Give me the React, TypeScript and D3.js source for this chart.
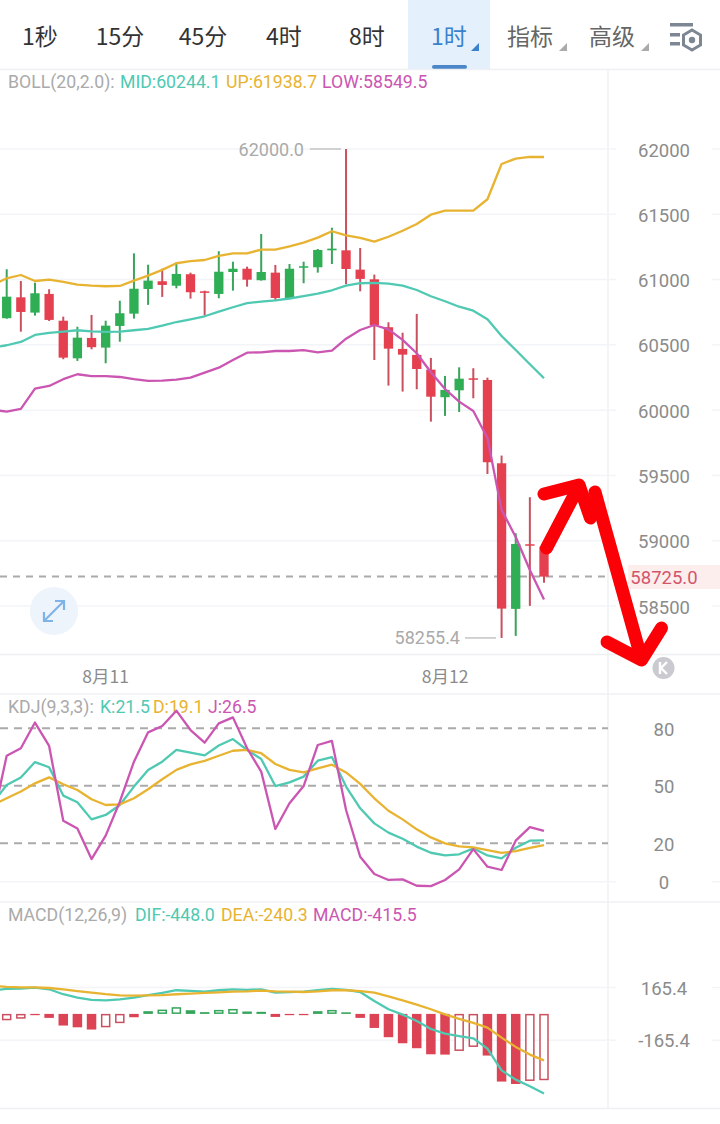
import * as d3 from "d3";

// candle data, index 0..38
const opens = [60704,60864,60747,60890,60685,60397,60553,60479,60645,60739,60928,60987,60953,61041,60910,60890,61058,61083,60995,61053,60857,61091,61094,61224,61224,61076,61002,60635,60469,60423,60310,60099,60152,60244,60231,59593,58478,58973,58955];
const highs = [61079,60989,60976,60926,60716,60639,60729,60685,60838,61201,61114,61083,61132,61053,60915,61217,61137,61099,61349,61112,61119,61137,61234,61397,62000,61242,61038,60673,60593,60737,60400,60262,60328,60321,60249,59652,59057,59333,58960];
const lows = [60700,60601,60724,60683,60390,60377,60466,60359,60524,60701,60806,60867,60933,60854,60724,60857,60915,60946,60992,60844,60855,60972,61053,61119,60964,60910,60384,60188,60142,60160,59912,59956,59986,60091,59511,58255.4,58271,58501,58679];
const closes = [60869,60752,60895,60691,60402,60555,60482,60647,60742,60930,60992,60959,61043,60903,60900,61060,61083,60999,61058,60859,61083,61102,61227,61237,61081,61005,60652,60471,60425,60315,60103,60155,60241,60237,59601,58480,58975,58966,58725];

// indicator series start one candle earlier, off the left edge (index -1..38)
const bollUp = [60959,61010,61035,60989,60999,60982,60961,60953,60949,60951,60992,61030,61074,61125,61142,61150,61181,61201,61201,61229,61229,61255,61283,61321,61370,61339,61319,61290,61328,61374,61426,61497,61528,61528,61528,61615,61885,61926,61939,61938.7];
const bollMid = [60480,60497,60522,60576,60591,60601,60612,60604,60599,60601,60612,60622,60647,60675,60696,60719,60754,60788,60819,60831,60841,60855,60874,60892,60918,60953,60972,60974,60969,60953,60920,60872,60834,60792,60762,60696,60568,60461,60351,60244.1];
const bollLow = [60002,59989,60009,60165,60185,60237,60275,60260,60260,60254,60237,60224,60226,60234,60249,60287,60325,60384,60440,60443,60453,60453,60459,60443,60456,60547,60614,60652,60619,60538,60436,60290,60162,60065,59994,59787,59236,59029,58776,58549.5];

const kdjK = [40.9,50.4,54.3,62.4,59.7,44.9,41.4,32.5,34.8,40,49.6,58.3,62.6,68.7,67.3,65.9,71,74.4,68.7,64,49.9,51.8,54.8,63.1,65,49.6,38.3,30.4,25.6,22.4,18.3,15.1,13.7,14.3,17.4,13.7,12.2,17.7,21.4,21.5];
const kdjD = [40,43.5,47,51.3,54.4,50.8,47.8,43,40,40.3,43.5,48.2,53.4,58.3,61.2,63,65.7,68.3,68.7,67,61.4,58.3,57,59.1,61,57,51,43.5,37,32.5,27.3,23.1,20,18.4,17.9,16.5,15,16,17.7,19.1];
const kdjJ = [31.8,65.7,69.6,83,70.8,31.8,27.7,11.8,24,41.7,62.6,77.9,81.2,89.2,79.1,72.5,82.6,85.7,69.6,57.4,27.5,40.9,49.9,71.3,73.4,37.4,13,4,0.9,1.2,-2.1,-2.3,0.9,6.4,17,7.8,6.1,21.4,28.5,26.5];

const macdDif = [199,207,209,215,205,174,153,138,136,142,153,169,182,199,195,190,199,205,201,205,184,187,190,199,207,201,188,132,80,46,6,-44,-73,-88,-102,-167,-303,-361,-403,-448];
const macdDea = [226,220,217,217,213,205,194,184,174,167,165,167,169,174,178,182,186,190,192,197,192,190,188,192,199,199,194,184,161,136,109,80,48,19,-6,-35,-98,-156,-204,-240.3];
const macdHist = [-45,-40,-30,-8,-25,-73,-84,-98,-84,-58,-21,17,27,42,23,11,25,31,15,13,-19,-8,-8,17,25,10,-25,-88,-146,-184,-215,-253,-255,-232,-207,-261,-424,-439,-420,-415.5];

const priceTicks = [62000,61500,61000,60500,60000,59500,59000,58500];
const kdjTicks = [80,50,20,0];
const kdjDashed = [80,50,20];
const macdTicks = [165.4,-165.4];
const dateLabels = [{ i: 7, text: "8月11" }, { i: 31, text: "8月12" }];
const lastPrice = 58725;
const maxMark = 62000;
const minMark = 58255.4;

const tabs = ["1秒","15分","45分","4时","8时"];
const tabCenters = [40,120,203,284,367];

const RED = "#e5404f";
const GREEN = "#2fae55";
const GOLD = "#e8b330";
const TEAL = "#4fc9b2";
const PINK = "#cb56b2";
const GRID = "#f2f4f7";
const GREY = "#8b8b8b";
const LABEL_FONT = "Roboto, 'Noto Sans CJK SC', sans-serif";
const CJK_FONT = "'Noto Sans CJK SC', Roboto, sans-serif";

const x = d3.scaleLinear().domain([0, 38]).range([6.7, 544]);
const priceY = d3.scaleLinear().domain([58500, 62000]).range([606, 149]);
const kdjY = d3.scaleLinear().domain([0, 80]).range([881.7, 728.3]);
const macdY = d3.scaleLinear().domain([-165.4, 165.4]).range([1040.3, 987.5]);
// the app draws DIF/DEA about 8px below the histogram zero
const macdLineY = d3.scaleLinear().domain([-165.4, 165.4]).range([1048.4, 995.6]);

function makeLine(yScale: d3.ScaleLinear<number, number>) {
  return d3
    .line<number>()
    .x((_, i) => x(i - 1))
    .y((d) => yScale(d));
}

function Series({ values, scale, color }: { values: number[]; scale: d3.ScaleLinear<number, number>; color: string }) {
  return <path d={makeLine(scale)(values) || ""} fill="none" stroke={color} strokeWidth={2.3} strokeLinejoin="round" />;
}

function Label({ x: lx, y, text, color, size = 17.7, anchor = "start", font = LABEL_FONT }: any) {
  return (
    <text x={lx} y={y} fill={color} fontSize={size} textAnchor={anchor} fontFamily={font} dominantBaseline="central">
      {text}
    </text>
  );
}

function Grid({ y }: { y: number }) {
  return (
    <g stroke={GRID} strokeWidth={1.5}>
      <line x1={0} x2={616} y1={y} y2={y} />
      <line x1={712} x2={720} y1={y} y2={y} />
    </g>
  );
}

function TabBar() {
  return (
    <g>
      <rect x={408} y={0} width={82} height={69} fill="#e4f0fc" />
      <rect x={432} y={65} width={35} height={4} rx={2} fill="#4a86c8" />
      {tabs.map((t, i) => (
        <Label key={t} x={tabCenters[i]} y={35} text={t} color="#333333" size={23} anchor="middle" font={CJK_FONT} />
      ))}
      <Label x={449} y={35} text="1时" color="#3a82cc" size={23} anchor="middle" font={CJK_FONT} />
      <path d="M471 51 L479 51 L479 43 Z" fill="#3a82cc" />
      <Label x={530} y={35} text="指标" color="#666666" size={23} anchor="middle" font={CJK_FONT} />
      <path d="M559 51 L567 51 L567 43 Z" fill="#aaaaaa" />
      <Label x={612} y={35} text="高级" color="#666666" size={23} anchor="middle" font={CJK_FONT} />
      <path d="M641 51 L649 51 L649 43 Z" fill="#aaaaaa" />
      <g fill="#7d8794">
        <rect x={670} y={23} width={23} height={3.5} />
        <rect x={670} y={33} width={10} height={3.5} />
        <rect x={670} y={42} width={10} height={3.5} />
      </g>
      <path d="M692 30 L700.5 35 L700.5 45 L692 50 L683.5 45 L683.5 35 Z" fill="none" stroke="#7d8794" strokeWidth={3} />
      <circle cx={692} cy={40} r={3.2} fill="#7d8794" />
    </g>
  );
}

function Candles() {
  const w = 9.3;
  return (
    <g>
      {opens.map((o, i) => {
        const c = closes[i];
        const up = c > o;
        const fill = up ? GREEN : RED;
        const top = priceY(Math.max(o, c));
        const bottom = priceY(Math.min(o, c));
        return (
          <g key={i}>
            <line x1={x(i)} x2={x(i)} y1={priceY(highs[i])} y2={priceY(lows[i])} stroke={up ? "#3aa35c" : "#c9505f"} strokeWidth={2} />
            <rect x={x(i) - w / 2} y={top} width={w} height={Math.max(bottom - top, 1.5)} fill={fill} />
          </g>
        );
      })}
    </g>
  );
}

function Histogram() {
  const w = 9.5;
  const zero = macdY(0);
  return (
    <g>
      {macdHist.slice(1).map((v, i) => {
        const prev = macdHist[i];
        const color = v < 0 ? "#dc4355" : "#36a55c";
        const h = Math.abs(macdY(v) - zero);
        const top = Math.min(macdY(v), zero);
        // rising bars are drawn hollow
        if (v > prev && h > 3.4) {
          return (
            <rect key={i} x={x(i) - w / 2 + 0.75} y={top + 0.75} width={w - 1.5} height={h - 1.5} fill="#ffffff" stroke={v < 0 ? "#c9505f" : "#36a55c"} strokeWidth={1.5} />
          );
        }
        return <rect key={i} x={x(i) - w / 2} y={top} width={w} height={h} fill={color} />;
      })}
    </g>
  );
}

function Arrows() {
  return (
    <g fill="none" stroke="#fb0006" strokeWidth={13} strokeLinecap="round" strokeLinejoin="round">
      <path d="M546.5 548 L579 486" />
      <path d="M544 494 L579 485 L590.5 518" />
      <path d="M595 492 L641.5 659" />
      <path d="M607 642 L641.5 660 L661.5 628" />
    </g>
  );
}

export default function App() {
  return (
    <svg width={720} height={1124} style={{ position: "absolute", left: 0, top: 0, background: "#ffffff" }}>
      <TabBar />
      <g stroke="#eef0f3" strokeWidth={1.5}>
        <line x1={0} x2={720} y1={69.5} y2={69.5} />
        <line x1={0} x2={720} y1={654.5} y2={654.5} />
        <line x1={0} x2={720} y1={694} y2={694} />
        <line x1={0} x2={720} y1={902} y2={902} />
        <line x1={0} x2={720} y1={1108.5} y2={1108.5} />
        <line x1={608} x2={608} y1={69} y2={1108} />
      </g>

      {/* price panel */}
      <Label x={8} y={82} text="BOLL(20,2.0):" color="#aaaaaa" />
      <Label x={120} y={82} text="MID:60244.1" color={TEAL} />
      <Label x={226} y={82} text="UP:61938.7" color={GOLD} />
      <Label x={322} y={82} text="LOW:58549.5" color={PINK} />
      {priceTicks.map((t) => (
        <g key={t}>
          <Grid y={priceY(t)} />
          <Label x={664} y={priceY(t) + 1.5} text={String(t)} color={GREY} size={18.5} anchor="middle" />
        </g>
      ))}
      <line x1={0} x2={608} y1={priceY(lastPrice)} y2={priceY(lastPrice)} stroke="#aaaaaa" strokeWidth={2} strokeDasharray="7 6" />
      <rect x={628} y={565} width={92} height={24} fill="#fdeeee" />
      <Label x={664} y={priceY(lastPrice) + 1} text={lastPrice.toFixed(1)} color="#d2566b" size={18.5} anchor="middle" />

      <Candles />
      <Series values={bollUp} scale={priceY} color={GOLD} />
      <Series values={bollMid} scale={priceY} color={TEAL} />
      <Series values={bollLow} scale={priceY} color={PINK} />

      <line x1={310} x2={341} y1={priceY(maxMark)} y2={priceY(maxMark)} stroke="#c4c4c4" strokeWidth={1.5} />
      <Label x={304} y={priceY(maxMark)} text={maxMark.toFixed(1)} color="#aaaaaa" size={18} anchor="end" />
      <line x1={465} x2={496} y1={priceY(minMark)} y2={priceY(minMark)} stroke="#c4c4c4" strokeWidth={1.5} />
      <Label x={460} y={priceY(minMark)} text={minMark.toFixed(1)} color="#aaaaaa" size={18} anchor="end" />

      {dateLabels.map((d) => (
        <Label key={d.text} x={x(d.i)} y={675} text={d.text} color={GREY} size={17.5} anchor="middle" font={CJK_FONT} />
      ))}

      <circle cx={54} cy={611} r={24} fill="#eef4fc" />
      <g fill="none" stroke="#7fb2e5" strokeWidth={2.2}>
        <path d="M45 620 L63 602" />
        <path d="M55 601 L64 601 L64 610" />
        <path d="M44 612 L44 621 L53 621" />
      </g>
      <circle cx={663.5} cy={668} r={11} fill="#c9cbd0" />
      <path d="M660 662 L660 674 M667 662 L661 668 L667 674" fill="none" stroke="#ffffff" strokeWidth={2.4} />

      {/* KDJ panel */}
      <Label x={8} y={707} text="KDJ(9,3,3):" color="#aaaaaa" />
      <Label x={100} y={707} text="K:21.5" color={TEAL} />
      <Label x={153} y={707} text="D:19.1" color={GOLD} />
      <Label x={208} y={707} text="J:26.5" color={PINK} />
      <Grid y={kdjY(0)} />
      {kdjDashed.map((t) => (
        <line key={t} x1={0} x2={608} y1={kdjY(t)} y2={kdjY(t)} stroke="#aaaaaa" strokeWidth={2} strokeDasharray="8 6" />
      ))}
      {kdjTicks.map((t) => (
        <Label key={t} x={664} y={kdjY(t) + 1.5} text={String(t)} color={GREY} size={18.5} anchor="middle" />
      ))}
      <Series values={kdjK} scale={kdjY} color={TEAL} />
      <Series values={kdjD} scale={kdjY} color={GOLD} />
      <Series values={kdjJ} scale={kdjY} color={PINK} />

      {/* MACD panel */}
      <Label x={8} y={915} text="MACD(12,26,9)" color="#aaaaaa" />
      <Label x={135} y={915} text="DIF:-448.0" color={TEAL} />
      <Label x={221} y={915} text="DEA:-240.3" color={GOLD} />
      <Label x={313} y={915} text="MACD:-415.5" color={PINK} />
      {macdTicks.map((t) => (
        <g key={t}>
          <Grid y={macdY(t)} />
          <Label x={664} y={macdY(t) + 1} text={String(t)} color={GREY} size={18.5} anchor="middle" />
        </g>
      ))}
      <Histogram />
      <Series values={macdDif} scale={macdLineY} color={TEAL} />
      <Series values={macdDea} scale={macdLineY} color={GOLD} />

      <Arrows />
    </svg>
  );
}
